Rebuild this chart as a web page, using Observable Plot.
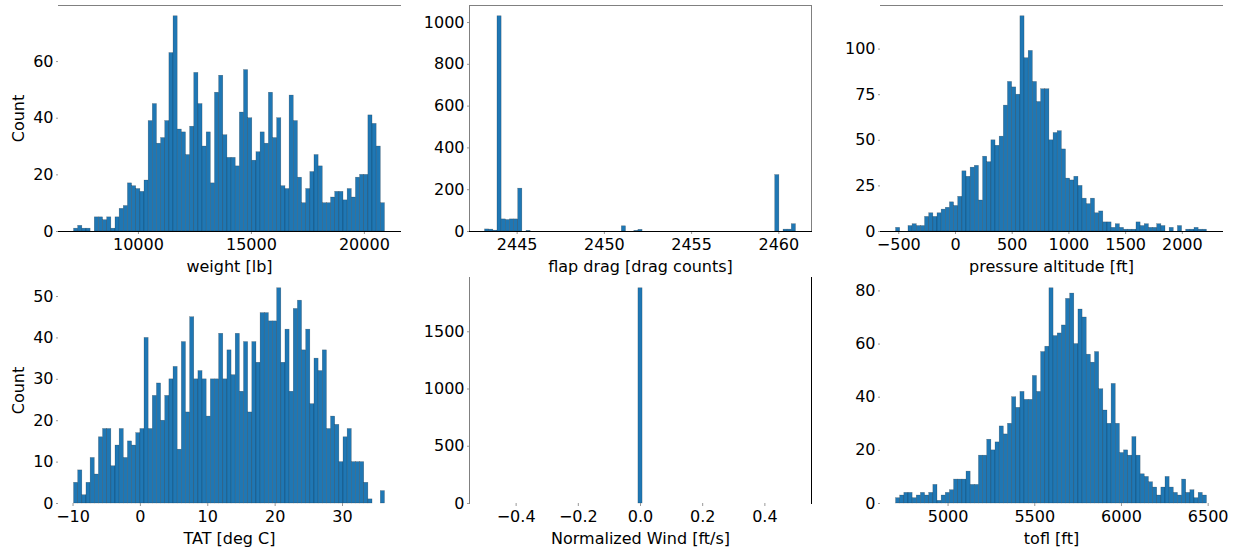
<!DOCTYPE html>
<html>
<head>
<meta charset="utf-8">
<script src="https://cdn.jsdelivr.net/npm/d3@7"></script>
<script src="https://cdn.jsdelivr.net/npm/@observablehq/plot@0.6"></script>
<style>
  html, body { margin: 0; padding: 0; background: #fff; }
  #fig { position: relative; width: 1238px; height: 550px; background: #fff; font-family: "DejaVu Sans", sans-serif; }
  .panel { position: absolute; }
</style>
</head>
<body>
<div id="fig"></div>
<script>
// ---- Data (bin counts, 75 equal-width bins per histogram) ----
const weightRange = [7150, 20910];
const weightCounts = [1,2,1,1,0,5,5,4,5,1, 5,8,9,17,16,15,14,18,39,45, 31,33,39,63,76,36,35,27,37,56, 45,30,35,17,49,55,34,26,26,23, 42,57,40,25,28,35,31,49,33,40, 16,15,48,39,19,10,15,21,27,23, 10,10,12,14,14,11,15,12,19,20, 20,41,38,30,10];

const flapRange = [2443.16, 2460.98];
const flapCounts = [10,9,4,1030,58,55,58,58,205,0, 3,0,0,0,0,0,0,0,0,0, 0,0,0,0,0,0,0,0,0,0, 0,0,0,25,0,0,3,8,0,0, 0,0,0,0,0,0,0,0,0,0, 0,0,0,0,0,0,0,0,0,0, 0,0,0,0,0,0,0,0,0,0, 270,0,9,9,35];

const altRange = [-524, 2217];
const altCounts = [2,0,0,3,4,3,3,8,10,8, 10,12,13,16,14,19,33,30,35,36, 17,41,38,50,47,52,69,82,79,75, 118,95,99,82,71,78,78,50,54,55, 45,29,28,30,25,18,15,18,10,11, 5,5,2,4,2,1,1,1,5,3, 4,2,2,4,3,0,2,0,3,0, 1,1,2,1,1];

const tatRange = [-9.85, 36.3];
const tatCounts = [5,8,2,5,11,7,16,18,18,9, 14,18,11,15,14,17,18,40,18,26, 29,20,26,30,33,13,39,22,45,30, 32,30,21,30,30,41,30,37,31,41, 27,39,22,39,34,46,46,44,44,52, 34,42,27,47,49,37,42,24,35,32, 37,18,21,19,10,16,18,10,10,10, 5,1,0,0,3];

const windRange = [-0.5, 0.5];
const windCounts = [0,0,0,0,0,0,0,0,0,0, 0,0,0,0,0,0,0,0,0,0, 0,0,0,0,0,0,0,0,0,0, 0,0,0,0,0,0,0,1880,0,0, 0,0,0,0,0,0,0,0,0,0, 0,0,0,0,0,0,0,0,0,0, 0,0,0,0,0,0,0,0,0,0, 0,0,0,0,0];

const toflRange = [4700, 6493];
const toflCounts = [2,3,4,4,2,3,4,3,4,7, 1,3,4,5,9,9,9,12,7,7, 18,18,24,20,23,29,26,30,40,36, 42,39,39,48,42,57,59,81,63,64, 67,77,79,60,73,70,56,53,57,43, 35,30,45,30,19,20,18,25,18,11, 10,8,6,3,6,10,6,4,3,9, 4,5,2,4,3];

// tick values and labels
const weightXTicks = [10000, 15000, 20000];
const weightYTicks = [0, 20, 40, 60];
const flapXTicks = [2445, 2450, 2455, 2460];
const flapYTicks = [0, 200, 400, 600, 800, 1000];
const altXTicks = [-500, 0, 500, 1000, 1500, 2000];
const altYTicks = [0, 25, 50, 75, 100];
const tatXTicks = [-10, 0, 10, 20, 30];
const tatYTicks = [0, 10, 20, 30, 40, 50];
const windXTicks = [-0.4, -0.2, 0.0, 0.2, 0.4];
const windYTicks = [0, 500, 1000, 1500];
const toflXTicks = [5000, 5500, 6000, 6500];
const toflYTicks = [0, 20, 40, 60, 80];

const labels = {
  weight: "weight [lb]", flap: "flap drag [drag counts]", alt: "pressure altitude [ft]",
  tat: "TAT [deg C]", wind: "Normalized Wind [ft/s]", tofl: "tofl [ft]", count: "Count"
};

const BLUE = "#1f77b4";
const GRAY = "#808080";

function panel(o) {
  const n = o.counts.length;
  const [lo, hi] = o.range;
  const w = (hi - lo) / n;
  const span = hi - lo;
  const bins = o.counts.map((c, i) => ({x1: lo + i * w, x2: lo + (i + 1) * w, count: c}));
  const ymax = d3.max(o.counts) * 1.05;
  const marks = [
    Plot.rectY(bins, {
      filter: d => d.count > 0,
      x1: "x1", x2: "x2", y1: 0, y2: "count",
      fill: BLUE, stroke: "#000", strokeWidth: 0.5, strokeOpacity: 0.35
    }),
    Plot.axisX({
      ticks: o.xTicks, tickFormat: o.xFormat || d3.format("d"),
      tickSize: 3, tickPadding: 4, stroke: "#999",
      label: o.xLabel, labelAnchor: "center", labelOffset: 40, labelArrow: "none", fill: "#000"
    }),
    Plot.axisY({
      ticks: o.yTicks, tickFormat: d3.format("d"),
      tickSize: 2, tickPadding: 3, stroke: "#999",
      label: o.yLabel || null, labelAnchor: "center", labelOffset: 46, labelArrow: "none", fill: "#000"
    }),
    ...o.spines.map(([side, color]) => Plot.frame({anchor: side, stroke: color, strokeWidth: 1}))
  ];
  const svg = Plot.plot({
    width: o.width, height: 275,
    marginLeft: o.ml, marginRight: o.width - o.ml - 342, marginTop: 5, marginBottom: 44,
    x: {domain: [lo - 0.05 * span, hi + 0.05 * span]},
    y: {domain: [0, ymax]},
    style: {fontSize: "16px", fontFamily: "DejaVu Sans, sans-serif", color: "#000", background: "transparent"},
    marks
  });
  const div = document.createElement("div");
  div.className = "panel";
  div.style.left = o.left + "px";
  div.style.top = o.top + "px";
  div.appendChild(svg);
  document.getElementById("fig").appendChild(div);
}

panel({left: 0, top: 0, width: 410, ml: 58, counts: weightCounts, range: weightRange,
  xTicks: weightXTicks, yTicks: weightYTicks, xLabel: labels.weight, yLabel: labels.count,
  spines: [["top", GRAY], ["bottom", "#000"]]});
panel({left: 410, top: 0, width: 410, ml: 59, counts: flapCounts, range: flapRange,
  xTicks: flapXTicks, yTicks: flapYTicks, xLabel: labels.flap,
  spines: [["top", GRAY], ["left", GRAY], ["right", GRAY], ["bottom", "#000"]]});
panel({left: 820, top: 0, width: 418, ml: 60, counts: altCounts, range: altRange,
  xTicks: altXTicks, yTicks: altYTicks, xLabel: labels.alt,
  spines: [["top", GRAY], ["bottom", "#000"]]});
panel({left: 0, top: 272, width: 410, ml: 58, counts: tatCounts, range: tatRange,
  xTicks: tatXTicks, yTicks: tatYTicks, xLabel: labels.tat, yLabel: labels.count,
  spines: []});
panel({left: 410, top: 272, width: 410, ml: 59, counts: windCounts, range: windRange,
  xTicks: windXTicks, yTicks: windYTicks, xLabel: labels.wind, xFormat: d3.format(".1f"),
  spines: [["left", GRAY], ["right", "#000"]]});
panel({left: 820, top: 272, width: 418, ml: 60, counts: toflCounts, range: toflRange,
  xTicks: toflXTicks, yTicks: toflYTicks, xLabel: labels.tofl,
  spines: []});
</script>
</body>
</html>
